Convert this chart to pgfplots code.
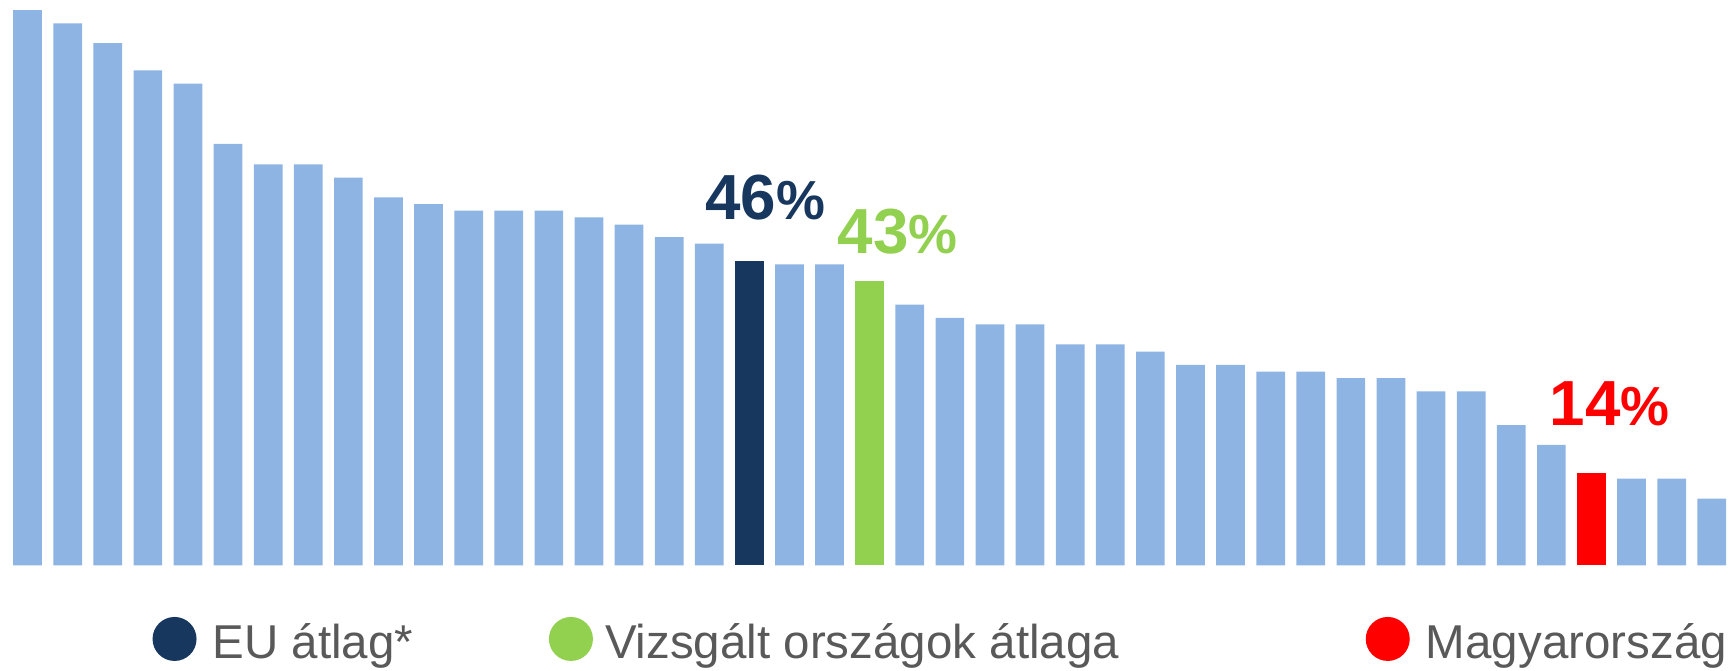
\documentclass[border=0pt]{standalone}
\usepackage{pgfplots}
\pgfplotsset{compat=1.18}
\usepackage{fontspec}
\setmainfont{Liberation Sans}
\definecolor{barblue}{RGB}{142,180,227}
\definecolor{navy}{RGB}{23,55,94}
\definecolor{lgreen}{RGB}{146,208,80}
\definecolor{txtgray}{RGB}{89,89,89}
\newcommand{\pct}{{\fontsize{22}{26}\selectfont\%}}
\begin{document}
\begin{tikzpicture}
\begin{axis}[
  scale only axis,
  width=693.2pt, height=268pt,
  xmin=-0.688, xmax=42.53,
  ymin=-15.79, ymax=85.42,
  hide axis,
  ybar, bar shift=0pt, bar width=0.716,
  clip=false,
]
\addplot[fill=barblue, draw=none] coordinates {
(0,83.9) (1,81.9) (2,78.9) (3,74.8) (4,72.8) (5,63.7) (6,60.6) (7,60.6)
(8,58.6) (9,55.6) (10,54.6) (11,53.6) (12,53.6) (13,53.6) (14,52.6)
(15,51.5) (16,49.6) (17,48.6) (19,45.5) (20,45.5) (22,39.4) (23,37.4)
(24,36.4) (25,36.4) (26,33.4) (27,33.4) (28,32.3) (29,30.3) (30,30.3)
(31,29.3) (32,29.3) (33,28.3) (34,28.3) (35,26.3) (36,26.3) (37,21.2)
(38,18.2) (40,13.1) (41,13.1) (42,10.1)
};
\addplot[fill=navy, draw=none] coordinates {(18,46)};
\addplot[fill=lgreen, draw=none] coordinates {(21,43)};
\addplot[fill=red, draw=none] coordinates {(39,14)};
\node[anchor=base, font=\fontsize{25.5}{30}\selectfont\bfseries, text=navy, inner sep=0pt] at (axis cs:18.4,52.2) {46\pct};
\node[anchor=base, font=\fontsize{25.5}{30}\selectfont\bfseries, text=lgreen, inner sep=0pt] at (axis cs:21.7,47.2) {43\pct};
\node[anchor=base, font=\fontsize{25.5}{30}\selectfont\bfseries, text=red, inner sep=0pt] at (axis cs:39.45,21.2) {14\pct};
\node[circle, fill=navy, minimum size=17.6pt, inner sep=0pt] at (axis cs:3.665,-11.1) {};
\node[circle, fill=lgreen, minimum size=17.6pt, inner sep=0pt] at (axis cs:13.55,-11.1) {};
\node[circle, fill=red, minimum size=17.6pt, inner sep=0pt] at (axis cs:33.92,-11.1) {};
\node[anchor=base west, inner sep=0pt, text=txtgray, font=\fontsize{19}{23}\selectfont] at (axis cs:4.6,-14.12) {EU átlag*};
\node[anchor=base west, inner sep=0pt, text=txtgray, font=\fontsize{19}{23}\selectfont] at (axis cs:14.39,-14.12) {Vizsgált országok átlaga};
\node[anchor=base west, inner sep=0pt, text=txtgray, font=\fontsize{19}{23}\selectfont] at (axis cs:34.86,-14.12) {Magyarország};
\end{axis}
\pgfresetboundingbox
\path (current axis.south west) rectangle (current axis.north east);
\end{tikzpicture}
\end{document}
